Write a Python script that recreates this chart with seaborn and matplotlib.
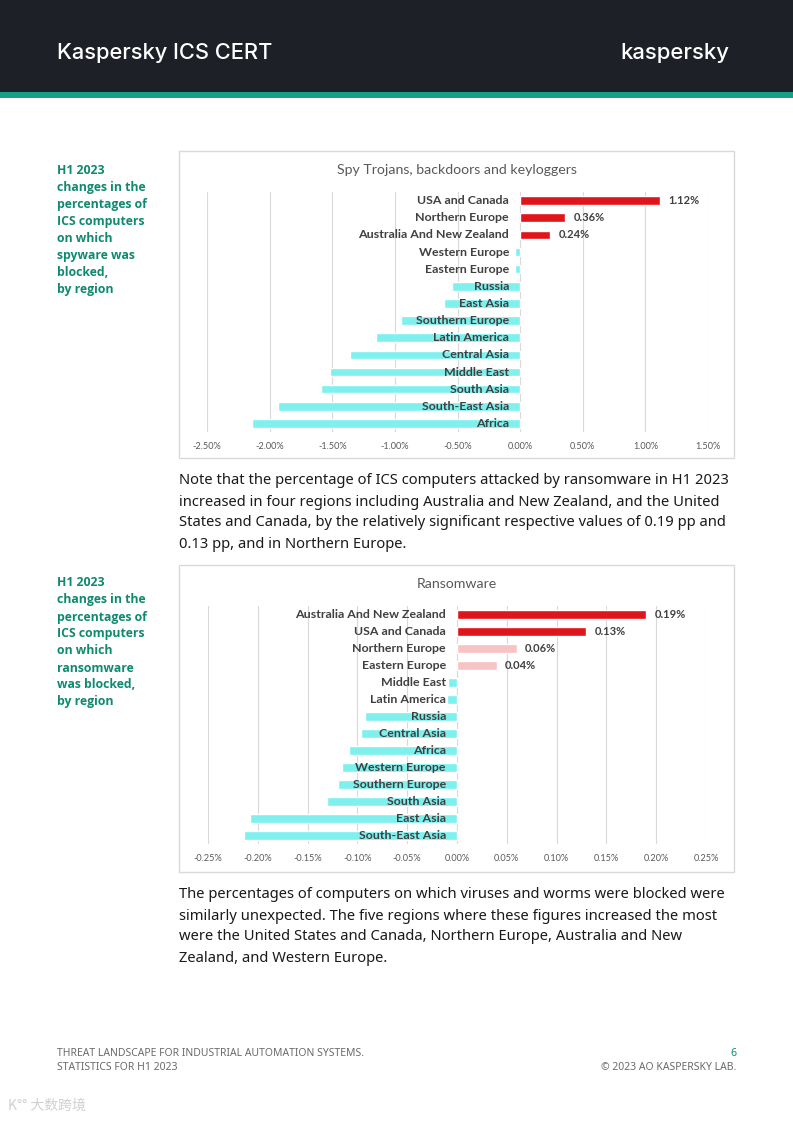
"""
Kaspersky ICS CERT page: H1 2023 regional changes (spyware, ransomware).
"""
import matplotlib
matplotlib.use('Agg')
import matplotlib.pyplot as plt
import seaborn as sns
import pandas as pd
from matplotlib.patches import Rectangle

W, H = 793, 1122

# --- data ---------------------------------------------------------------
spy_regions = ['USA and Canada', 'Northern Europe', 'Australia And New Zealand',
               'Western Europe', 'Eastern Europe', 'Russia', 'East Asia',
               'Southern Europe', 'Latin America', 'Central Asia', 'Middle East',
               'South Asia', 'South-East Asia', 'Africa']
spy_values = [1.12, 0.36, 0.24, -0.04, -0.04, -0.54, -0.61, -0.95, -1.15,
              -1.36, -1.52, -1.59, -1.93, -2.14]
spy_groups = ['up', 'up', 'up'] + ['down'] * 11
spy_ticks = [-2.5, -2.0, -1.5, -1.0, -0.5, 0.0, 0.5, 1.0, 1.5]

ran_regions = ['Australia And New Zealand', 'USA and Canada', 'Northern Europe',
               'Eastern Europe', 'Middle East', 'Latin America', 'Russia',
               'Central Asia', 'Africa', 'Western Europe', 'Southern Europe',
               'South Asia', 'East Asia', 'South-East Asia']
ran_values = [0.19, 0.13, 0.06, 0.04, -0.009, -0.010, -0.092, -0.096,
              -0.108, -0.115, -0.119, -0.131, -0.208, -0.214]
ran_groups = ['up', 'up', 'minor', 'minor'] + ['down'] * 10
ran_ticks = [-0.25, -0.20, -0.15, -0.10, -0.05, 0.0, 0.05, 0.10, 0.15, 0.20, 0.25]

palette = {'up': '#e0141b', 'minor': '#f7c3c4', 'down': '#7ef1ef'}

GREEN = '#0f8a70'
DARK = '#404040'
GRAY = '#595959'

sns.set_theme(style='white')
plt.rcParams['font.family'] = ['Lato', 'DejaVu Sans']


def box(x0, y0, x1, y1):
    """pixel box (top-left origin) -> figure fraction rect"""
    return [x0 / W, 1 - y1 / H, (x1 - x0) / W, (y1 - y0) / H]


def ftext(x, y, s, **kw):
    fig.text(x / W, 1 - y / H, s, **kw)


def draw_chart(ax, regions, values, groups, ticks, fmt, label_fmt):
    df = pd.DataFrame({'region': regions, 'value': values, 'group': groups})
    sns.barplot(data=df, x='value', y='region', hue='group', palette=palette,
                dodge=False, width=0.5, legend=False, ax=ax, saturation=1)
    ax.set_xlim(ticks[0], ticks[-1])
    ax.set_ylim(len(regions) - 0.5, -0.5)
    ax.set_xticks(ticks)
    ax.set_xticklabels([fmt.format(t) for t in ticks], fontsize=6.6, color=GRAY)
    ax.tick_params(axis='x', length=0, pad=7)
    ax.set_yticks([])
    ax.set_xlabel('')
    ax.set_ylabel('')
    ax.patch.set_alpha(0)
    for s in ax.spines.values():
        s.set_visible(False)
    ax.grid(axis='x', color='#d9d9d9', linewidth=0.8)
    ax.set_axisbelow(True)
    for i, (r, v) in enumerate(zip(regions, values)):
        ax.annotate(r, (0, i), xytext=(-8, 0), textcoords='offset points',
                    ha='right', va='center', fontsize=8.9, fontweight='bold',
                    color=DARK)
        if v > 0:
            ax.annotate(label_fmt.format(v), (v, i), xytext=(6, 0),
                        textcoords='offset points', ha='left', va='center',
                        fontsize=8, fontweight='bold', color=DARK)


fig = plt.figure(figsize=(W / 100, H / 100), dpi=100)
fig.patch.set_facecolor('white')

# header band
fig.patches.append(Rectangle((0, 1 - 92 / H), 1, 92 / H, transform=fig.transFigure,
                             facecolor='#1d2026', edgecolor='none', zorder=-2))
fig.patches.append(Rectangle((0, 1 - 98 / H), 1, 6 / H, transform=fig.transFigure,
                             facecolor='#17a085', edgecolor='none', zorder=-2))
ftext(57, 53, 'Kaspersky ICS CERT', color='white', fontsize=15.7, va='center',
      family=['Inter', 'DejaVu Sans'], fontweight='medium')
ftext(729, 53, 'kaspersky', color='white', fontsize=15.9, va='center', ha='right',
      family=['Inter', 'DejaVu Sans'], fontweight='medium')

# chart frames
for y0, y1 in [(151, 458), (565, 872)]:
    fig.patches.append(Rectangle((179 / W, 1 - y1 / H), (734 - 179) / W, (y1 - y0) / H,
                                 transform=fig.transFigure, facecolor='white',
                                 edgecolor='#d9d9d9', linewidth=1, zorder=-2))

# side captions
side1 = ['H1 2023', 'changes in the', 'percentages of', 'ICS computers',
         'on which', 'spyware was', 'blocked,', 'by region']
side2 = ['H1 2023', 'changes in the', 'percentages of', 'ICS computers',
         'on which', 'ransomware', 'was blocked,', 'by region']
for top, lines in [(170, side1), (583, side2)]:
    for k, line in enumerate(lines):
        ftext(57, top + 17 * k, line, color=GREEN, fontsize=8.8, fontweight='bold',
              va='center', family=['Open Sans', 'DejaVu Sans'])

# chart 1
ftext(457, 170, 'Spy Trojans, backdoors and keyloggers', ha='center', va='center',
      fontsize=10.2, color=GRAY)
ax1 = fig.add_axes(box(207, 192, 708, 432))
draw_chart(ax1, spy_regions, spy_values, spy_groups, spy_ticks, '{:.2f}%', '{:.2f}%')

# chart 2
ftext(457, 584, 'Ransomware', ha='center', va='center', fontsize=10.2, color=GRAY)
ax2 = fig.add_axes(box(208, 606, 706, 844))
draw_chart(ax2, ran_regions, ran_values, ran_groups, ran_ticks, '{:.2f}%', '{:.2f}%')

# body text
body1 = ['Note that the percentage of ICS computers attacked by ransomware in H1 2023',
         'increased in four regions including Australia and New Zealand, and the United',
         'States and Canada, by the relatively significant respective values of 0.19 pp and',
         '0.13 pp, and in Northern Europe.']
body2 = ['The percentages of computers on which viruses and worms were blocked were',
         'similarly unexpected. The five regions where these figures increased the most',
         'were the United States and Canada, Northern Europe, Australia and New',
         'Zealand, and Western Europe.']
for top, lines in [(481, body1), (895, body2)]:
    for k, line in enumerate(lines):
        ftext(179, top + 21 * k, line, color='#1a1a1a', fontsize=10.6, va='center',
              family=['Noto Sans', 'DejaVu Sans'])

# footer
ftext(57, 1054, 'THREAT LANDSCAPE FOR INDUSTRIAL AUTOMATION SYSTEMS.', fontsize=7.5,
      color='#6b6b6b', va='center', family=['Noto Sans', 'DejaVu Sans'])
ftext(57, 1067, 'STATISTICS FOR H1 2023', fontsize=7.5, color='#6b6b6b', va='center',
      family=['Noto Sans', 'DejaVu Sans'])
ftext(736, 1054, '6', fontsize=7.5, color=GREEN, va='center', ha='right',
      family=['Noto Sans', 'DejaVu Sans'])
ftext(736, 1067, '© 2023 AO KASPERSKY LAB.', fontsize=7.5, color='#6b6b6b', va='center',
      ha='right', family=['Noto Sans', 'DejaVu Sans'])
ftext(8, 1106, 'K°° 大数跨境', fontsize=10, color='#d0d0d0', va='center',
      family=['Noto Sans CJK SC', 'DejaVu Sans'])

plt.savefig('out.png', dpi=100)
plt.close()
